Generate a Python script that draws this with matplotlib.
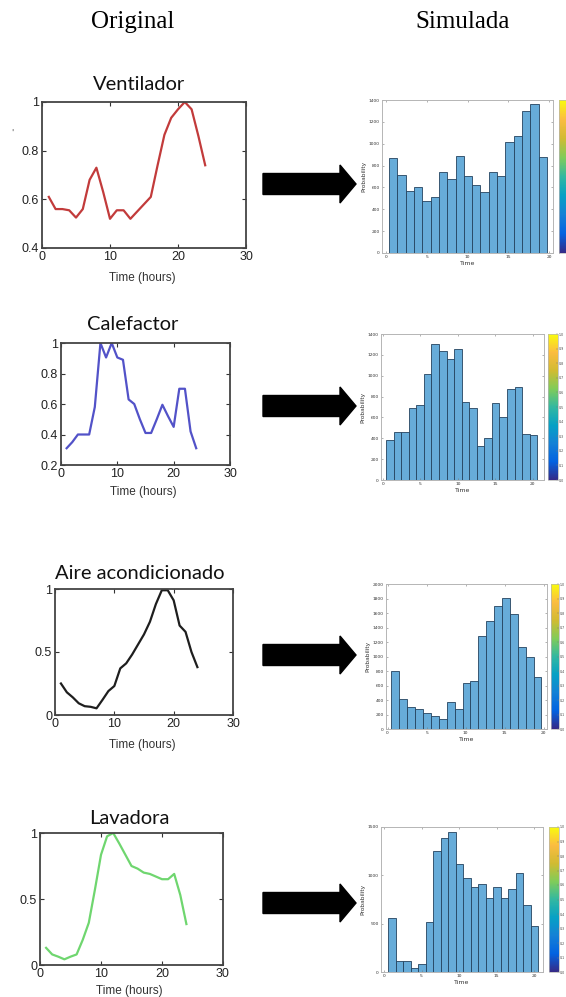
"""Original vs simulated load profiles: line curves on the left, histograms on the right."""

import matplotlib.pyplot as plt
import numpy as np
from matplotlib.colors import LinearSegmentedColormap, Normalize
from matplotlib.cm import ScalarMappable
from matplotlib.patches import FancyArrow

W, H = 566, 997

# ---- data -----------------------------------------------------------------
hours = [1, 2, 3, 4, 5, 6, 7, 8, 9, 10, 11, 12,
         13, 14, 15, 16, 17, 18, 19, 20, 21, 22, 23, 24]

ventilador = [0.61, 0.56, 0.56, 0.555, 0.525, 0.56, 0.68, 0.73, 0.63, 0.52, 0.555, 0.555,
              0.52, 0.55, 0.58, 0.61, 0.74, 0.865, 0.935, 0.97, 1.0, 0.97, 0.86, 0.74]
calefactor = [0.31, 0.35, 0.40, 0.40, 0.40, 0.58, 1.0, 0.905, 1.0, 0.905, 0.89, 0.63,
              0.60, 0.50, 0.41, 0.41, 0.50, 0.595, 0.52, 0.45, 0.70, 0.70, 0.42, 0.31]
aire = [0.25, 0.18, 0.14, 0.093, 0.07, 0.065, 0.053, 0.12, 0.19, 0.23, 0.37, 0.41,
        0.48, 0.56, 0.64, 0.74, 0.88, 0.99, 0.99, 0.91, 0.71, 0.66, 0.50, 0.38]
lavadora = [0.13, 0.08, 0.063, 0.043, 0.063, 0.08, 0.19, 0.32, 0.57, 0.835, 0.975, 1.0,
            0.92, 0.835, 0.75, 0.73, 0.70, 0.69, 0.67, 0.65, 0.65, 0.69, 0.53, 0.31]

hist_ventilador = [870, 710, 570, 600, 480, 510, 740, 680, 890, 700,
                   620, 560, 740, 700, 1020, 1070, 1300, 1360, 880]
hist_calefactor = [380, 460, 460, 690, 720, 1020, 1300, 1240, 1160, 1260,
                   750, 690, 330, 400, 740, 600, 870, 890, 440, 430]
hist_aire = [800, 410, 310, 270, 220, 180, 140, 370, 280, 640,
             660, 1280, 1490, 1700, 1810, 1590, 1130, 1000, 720]
hist_lavadora = [560, 110, 110, 40, 80, 520, 1250, 1390, 1450, 1120,
                 970, 880, 910, 770, 880, 770, 860, 1020, 690, 480]

names = ["Ventilador", "Calefactor", "Aire acondicionado", "Lavadora"]
curves = [ventilador, calefactor, aire, lavadora]
hists = [hist_ventilador, hist_calefactor, hist_aire, hist_lavadora]
line_colors = ["#c23b3b", "#5252c8", "#1e1e1e", "#6fd66f"]

# left panels: (left, right, top, bottom) in px, ylim, yticks, yticklabels
line_layout = [
    ((42, 246, 102, 248), (0.4, 1.0), [0.4, 0.6, 0.8, 1.0], ["0.4", "0.6", "0.8", "1"]),
    ((61, 230, 343, 465), (0.2, 1.0), [0.2, 0.4, 0.6, 0.8, 1.0], ["0.2", "0.4", "0.6", "0.8", "1"]),
    ((55, 233, 589, 715), (0.0, 1.0), [0, 0.5, 1.0], ["0", "0.5", "1"]),
    ((40, 223, 833, 965), (0.0, 1.0), [0, 0.5, 1.0], ["0", "0.5", "1"]),
]
title_pos = [(139, 85), (133, 325), (140, 573), (129, 818)]
xlabel_y = [278, 492, 745, 991]

# right panels: axes px, colorbar px (left, right), xlim, ymax, ystep, bin start, bin width
hist_layout = [
    ((382, 553, 100, 253), (559, 572), (-0.5, 20.5), 1400, 200, 0.37, 1.02),
    ((381, 544, 334, 480), (548, 558), (-0.27, 21.5), 1400, 200, 0.40, 1.01),
    ((386, 547, 584, 729), (551, 559), (-0.2, 20.4), 2000, 200, 0.50, 1.01),
    ((381, 543, 827, 972), (549, 559), (-0.4, 21.2), 1500, 500, 0.55, 1.00),
]
arrow_y = [184, 406, 655, 903]

parula = LinearSegmentedColormap.from_list(
    "parula_like",
    [(0.2081, 0.1663, 0.5292), (0.0116, 0.3872, 0.8820), (0.0779, 0.5040, 0.8384),
     (0.0239, 0.6287, 0.7723), (0.1986, 0.7214, 0.6310), (0.5044, 0.7993, 0.3480),
     (0.8185, 0.7327, 0.1962), (0.9856, 0.7372, 0.2537), (0.9763, 0.9831, 0.0538)],
)


def px_rect(l, r, t, b):
    return [l / W, 1 - b / H, (r - l) / W, (b - t) / H]


fig = plt.figure(figsize=(W / 100, H / 100), dpi=100)
fig.patch.set_facecolor("white")

fig.text(133 / W, 1 - 22 / H, "Original", family="Liberation Serif",
         fontsize=18, ha="center", va="center")
fig.text(463 / W, 1 - 22 / H, "Simulada", family="Liberation Serif",
         fontsize=18, ha="center", va="center")
# stray mark left of the first panel (remnant of a cropped y label)
fig.text(12 / W, 1 - 133 / H, "'", fontsize=6, ha="center", va="center", color="#555555")

for i in range(4):
    # --- original curve
    box, ylim, yticks, ylabels = line_layout[i]
    ax = fig.add_axes(px_rect(*box))
    ax.plot(hours, curves[i], color=line_colors[i], lw=1.6)
    ax.set_xlim(0, 30)
    ax.set_ylim(*ylim)
    ax.set_xticks([0, 10, 20, 30])
    ax.set_yticks(yticks)
    ax.set_yticklabels(ylabels)
    ax.tick_params(direction="in", top=True, right=True, length=3, width=0.8,
                   labelsize=9, colors="#333333", labelcolor="#222222", pad=2)
    for sp in ax.spines.values():
        sp.set_color("#444444")
        sp.set_linewidth(1.3)
    for lab in ax.get_xticklabels() + ax.get_yticklabels():
        lab.set_family("Liberation Sans")

    tx, ty = title_pos[i]
    fig.text(tx / W, 1 - ty / H, names[i], family="Lato", fontsize=14.5,
             ha="center", va="center", color="#111111")
    cx = (box[0] + box[1]) / 2
    fig.text((cx - 2) / W, 1 - xlabel_y[i] / H, "Time (hours)", family="Liberation Sans",
             fontsize=8.5, ha="center", va="center", color="#333333")

    # --- arrow
    ay = 1 - arrow_y[i] / H
    fig.patches.append(FancyArrow(263 / W, ay, 93 / W, 0, width=21 / H,
                                  head_width=38 / H, head_length=16 / W,
                                  length_includes_head=True, color="black",
                                  transform=fig.transFigure, figure=fig))

    # --- simulated histogram
    hbox, cbox, xlim, ymax, ystep, b0, bw = hist_layout[i]
    hx = fig.add_axes(px_rect(*hbox))
    heights = hists[i]
    lefts = b0 + bw * np.arange(len(heights))
    hx.bar(lefts, heights, width=bw, align="edge", color="#67acd9",
           edgecolor="#24435f", linewidth=0.6)
    hx.set_xlim(*xlim)
    hx.set_ylim(0, ymax)
    hx.set_xticks([0, 5, 10, 15, 20])
    hx.set_yticks(np.arange(0, ymax + 1, ystep))
    hx.tick_params(direction="in", top=True, right=True, length=1.5, width=0.4,
                   labelsize=3.2, colors="#777777", labelcolor="#333333", pad=1.5)
    for sp in hx.spines.values():
        sp.set_color("#b5b5b5")
        sp.set_linewidth(0.7)
    hx.set_xlabel("Time", fontsize=4.5, labelpad=1.5, color="#333333")
    hx.set_ylabel("Probability", fontsize=4.2, labelpad=2, color="#333333")

    cax = fig.add_axes(px_rect(cbox[0], cbox[1], hbox[2], hbox[3]))
    cb = fig.colorbar(ScalarMappable(norm=Normalize(0, 1), cmap=parula), cax=cax)
    cb.set_ticks(np.linspace(0, 1, 11))
    cb.ax.tick_params(direction="in", length=1.2, width=0.3, labelsize=2.3,
                      colors="#777777", labelcolor="#444444", pad=0.5)
    if cbox[1] > W:
        # this colorbar runs off the right edge, so its labels are not shown
        cb.ax.tick_params(labelright=False)
    cb.outline.set_edgecolor("#b5b5b5")
    cb.outline.set_linewidth(0.5)

fig.savefig("out.png", dpi=100)
